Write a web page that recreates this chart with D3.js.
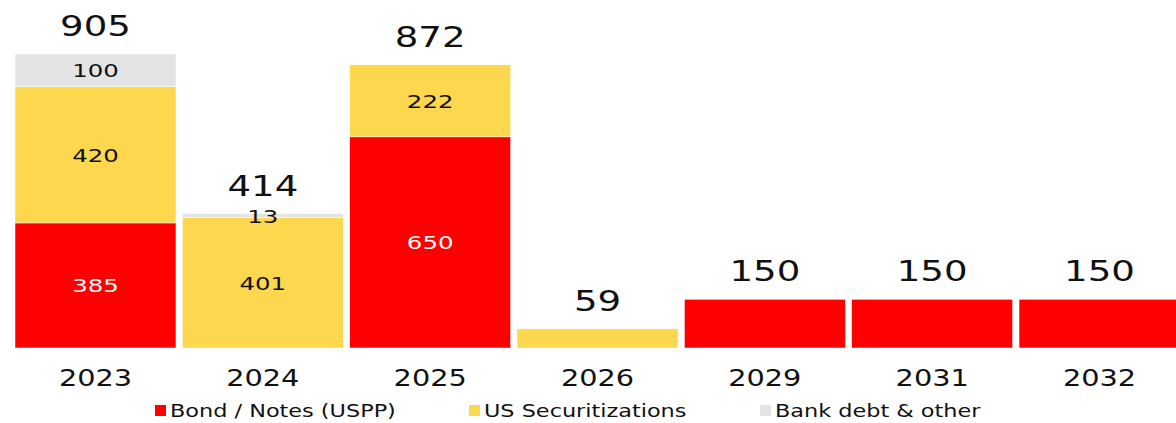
<html>
<head>
<script src="https://d3js.org/d3.v7.min.js"></script>
<style>
  body { margin: 0; background: #fff; }
  svg { display: block; font-family: "DejaVu Sans", sans-serif; }
</style>
</head>
<body>
<svg id="svg" width="1176" height="423"></svg>
<script>
var years = ["2023", "2024", "2025", "2026", "2029", "2031", "2032"];
var bonds = [385, 0, 650, 0, 150, 150, 150];
var securitizations = [420, 401, 222, 59, 0, 0, 0];
var bankDebt = [100, 13, 0, 0, 0, 0, 0];
var seriesNames = ["Bond / Notes (USPP)", "US Securitizations", "Bank debt & other"];
var colors = ["#ff0000", "#fdd74e", "#e4e4e4"];
var labelColors = ["#ffffff", "#111111", "#111111"];

var svg = d3.select("svg");
var wide = 1.25; // reference font is a wide sans

var rows = years.map(function(y, i) {
  return { year: y, s0: bonds[i], s1: securitizations[i], s2: bankDebt[i] };
});
var stack = d3.stack().keys(["s0", "s1", "s2"]);
var layers = stack(rows);

var x = d3.scaleBand().domain(years).range([15, 1180]).paddingInner(0.038).paddingOuter(0);
var y = d3.scaleLinear().domain([0, 905]).range([348, 54]);

var g = svg.append("g");

layers.forEach(function(layer, k) {
  var lg = g.append("g");
  lg.selectAll("rect").data(layer).enter().append("rect")
    .attr("x", function(d) { return x(d.data.year); })
    .attr("width", x.bandwidth())
    .attr("y", function(d) { return y(d[1]); })
    .attr("height", function(d) { return y(d[0]) - y(d[1]); })
    .attr("fill", colors[k])
    .attr("stroke", "#fff")
    .attr("stroke-width", 0.5);
});

// segment labels (only in stacked bars)
layers.forEach(function(layer, k) {
  g.append("g").selectAll("text")
    .data(layer.filter(function(d) {
      var v = d[1] - d[0];
      var total = d.data.s0 + d.data.s1 + d.data.s2;
      return v > 0 && v < total;
    }))
    .enter().append("text")
    .attr("transform", function(d) {
      var cx = x(d.data.year) + x.bandwidth() / 2;
      var cy = (y(d[0]) + y(d[1])) / 2 + 7;
      return "translate(" + cx + "," + cy + ") scale(" + 1.32 + ",1)";
    })
    .attr("text-anchor", "middle")
    .attr("font-size", 18.5)
    .attr("fill", labelColors[k])
    .text(function(d) { return d[1] - d[0]; });
});

// totals
g.append("g").selectAll("text").data(rows).enter().append("text")
  .attr("transform", function(d) {
    var cx = x(d.year) + x.bandwidth() / 2;
    var cy = y(d.s0 + d.s1 + d.s2) - 18;
    return "translate(" + cx + "," + cy + ") scale(" + 1.28 + ",1)";
  })
  .attr("text-anchor", "middle")
  .attr("font-size", 29)
  .attr("fill", "#111")
  .text(function(d) { return d.s0 + d.s1 + d.s2; });

// x axis
var xAxis = svg.append("g").attr("transform", "translate(0,348)")
  .call(d3.axisBottom(x).tickSize(0).tickPadding(22));
xAxis.select(".domain").remove();
xAxis.selectAll("text").attr("font-size", 23).attr("fill", "#111")
  .attr("font-family", "DejaVu Sans, sans-serif")
  .attr("transform", "scale(" + wide + ",1)");

// legend
var legendX = [155, 469, 760];
var legend = svg.append("g");
seriesNames.forEach(function(name, i) {
  legend.append("rect").attr("x", legendX[i]).attr("y", 405).attr("width", 11).attr("height", 11)
    .attr("fill", colors[i]);
  legend.append("text")
    .attr("transform", "translate(" + (legendX[i] + 15) + ",417) scale(1.21,1)")
    .attr("font-size", 18.5).attr("fill", "#111").text(name);
});
</script>
</body>
</html>
